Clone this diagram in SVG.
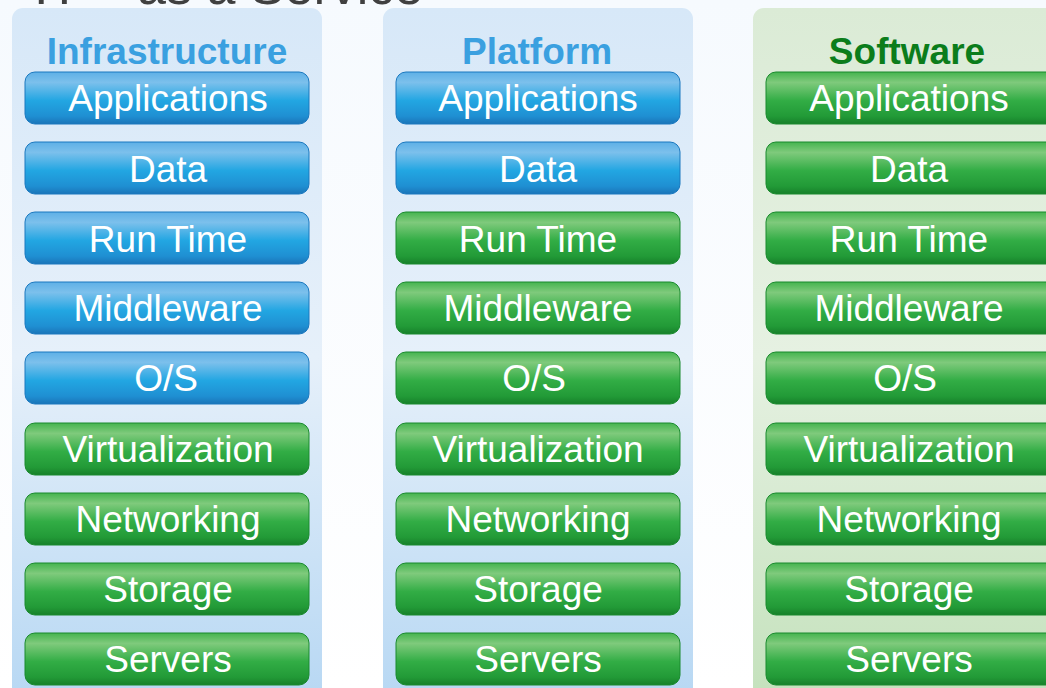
<svg xmlns="http://www.w3.org/2000/svg" width="1046" height="688" viewBox="0 0 1046 688">
<defs>
<linearGradient id="bg" x1="0" y1="0" x2="0" y2="1"><stop offset="0" stop-color="#f6fafe"/><stop offset="1" stop-color="#ffffff"/></linearGradient>
<linearGradient id="pb" x1="0" y1="0" x2="0" y2="1"><stop offset="0" stop-color="#d7e8f8"/><stop offset="0.5" stop-color="#e6f0fa"/><stop offset="1" stop-color="#b6d7f3"/></linearGradient>
<linearGradient id="pg" x1="0" y1="0" x2="0" y2="1"><stop offset="0" stop-color="#dbebd6"/><stop offset="0.5" stop-color="#e6f1e2"/><stop offset="1" stop-color="#c3e1bb"/></linearGradient>
<linearGradient id="gb" x1="0" y1="0" x2="0" y2="1"><stop offset="0" stop-color="#5eb0e6"/><stop offset="0.2" stop-color="#7cc0ec"/><stop offset="0.55" stop-color="#22a6e2"/><stop offset="0.85" stop-color="#1f8fd2"/><stop offset="1" stop-color="#1a74b8"/></linearGradient>
<linearGradient id="gg" x1="0" y1="0" x2="0" y2="1"><stop offset="0" stop-color="#45b44f"/><stop offset="0.2" stop-color="#7fca7c"/><stop offset="0.55" stop-color="#32ad45"/><stop offset="0.85" stop-color="#229a37"/><stop offset="1" stop-color="#17802a"/></linearGradient>
</defs>
<style>
.b rect{fill:url(#gb);stroke:#1a78bf;stroke-width:1}
.g rect{fill:url(#gg);stroke:#1a8a2e;stroke-width:1}
text{font-family:"Liberation Sans",Arial,sans-serif}
.t{fill:#ffffff;font-size:37px;text-anchor:middle}
.h{font-size:37px;font-weight:bold;text-anchor:middle}
</style>
<rect width="1046" height="688" fill="url(#bg)"/>
<text x="34" y="4" font-size="52" fill="#404040">IT – as a Service</text>
<g id="panel-infrastructure"><rect x="12" y="8" width="310" height="700" rx="11" fill="url(#pb)"/><text class="h" x="167" y="64" fill="#3aa0e0">Infrastructure</text></g>
<g id="panel-platform"><rect x="383" y="8" width="310" height="700" rx="11" fill="url(#pb)"/><text class="h" x="537" y="64" fill="#3aa0e0">Platform</text></g>
<g id="panel-software"><rect x="753" y="8" width="320" height="700" rx="11" fill="url(#pg)"/><text class="h" x="907" y="64" fill="#0b7d1b">Software</text></g>

<g id="i-applications" class="b"><rect x="25" y="72" width="284" height="52" rx="10"/><text class="t" x="168" y="111">Applications</text></g>
<g id="i-data" class="b"><rect x="25" y="142" width="284" height="52" rx="10"/><text class="t" x="168" y="182">Data</text></g>
<g id="i-runtime" class="b"><rect x="25" y="212" width="284" height="52" rx="10"/><text class="t" x="168" y="252">Run Time</text></g>
<g id="i-middleware" class="b"><rect x="25" y="282" width="284" height="52" rx="10"/><text class="t" x="168" y="321">Middleware</text></g>
<g id="i-os" class="b"><rect x="25" y="352" width="284" height="52" rx="10"/><text class="t" x="166" y="391">O/S</text></g>
<g id="i-virtualization" class="g"><rect x="25" y="423" width="284" height="52" rx="10"/><text class="t" x="168" y="462">Virtualization</text></g>
<g id="i-networking" class="g"><rect x="25" y="493" width="284" height="52" rx="10"/><text class="t" x="168" y="532">Networking</text></g>
<g id="i-storage" class="g"><rect x="25" y="563" width="284" height="52" rx="10"/><text class="t" x="168" y="602">Storage</text></g>
<g id="i-servers" class="g"><rect x="25" y="633" width="284" height="52" rx="10"/><text class="t" x="168" y="672">Servers</text></g>

<g id="p-applications" class="b"><rect x="396" y="72" width="284" height="52" rx="10"/><text class="t" x="538" y="111">Applications</text></g>
<g id="p-data" class="b"><rect x="396" y="142" width="284" height="52" rx="10"/><text class="t" x="538" y="182">Data</text></g>
<g id="p-runtime" class="g"><rect x="396" y="212" width="284" height="52" rx="10"/><text class="t" x="538" y="252">Run Time</text></g>
<g id="p-middleware" class="g"><rect x="396" y="282" width="284" height="52" rx="10"/><text class="t" x="538" y="321">Middleware</text></g>
<g id="p-os" class="g"><rect x="396" y="352" width="284" height="52" rx="10"/><text class="t" x="534" y="391">O/S</text></g>
<g id="p-virtualization" class="g"><rect x="396" y="423" width="284" height="52" rx="10"/><text class="t" x="538" y="462">Virtualization</text></g>
<g id="p-networking" class="g"><rect x="396" y="493" width="284" height="52" rx="10"/><text class="t" x="538" y="532">Networking</text></g>
<g id="p-storage" class="g"><rect x="396" y="563" width="284" height="52" rx="10"/><text class="t" x="538" y="602">Storage</text></g>
<g id="p-servers" class="g"><rect x="396" y="633" width="284" height="52" rx="10"/><text class="t" x="538" y="672">Servers</text></g>

<g id="s-applications" class="g"><rect x="766" y="72" width="290" height="52" rx="10"/><text class="t" x="909" y="111">Applications</text></g>
<g id="s-data" class="g"><rect x="766" y="142" width="290" height="52" rx="10"/><text class="t" x="909" y="182">Data</text></g>
<g id="s-runtime" class="g"><rect x="766" y="212" width="290" height="52" rx="10"/><text class="t" x="909" y="252">Run Time</text></g>
<g id="s-middleware" class="g"><rect x="766" y="282" width="290" height="52" rx="10"/><text class="t" x="909" y="321">Middleware</text></g>
<g id="s-os" class="g"><rect x="766" y="352" width="290" height="52" rx="10"/><text class="t" x="905" y="391">O/S</text></g>
<g id="s-virtualization" class="g"><rect x="766" y="423" width="290" height="52" rx="10"/><text class="t" x="909" y="462">Virtualization</text></g>
<g id="s-networking" class="g"><rect x="766" y="493" width="290" height="52" rx="10"/><text class="t" x="909" y="532">Networking</text></g>
<g id="s-storage" class="g"><rect x="766" y="563" width="290" height="52" rx="10"/><text class="t" x="909" y="602">Storage</text></g>
<g id="s-servers" class="g"><rect x="766" y="633" width="290" height="52" rx="10"/><text class="t" x="909" y="672">Servers</text></g>
<g id="connectors"/>
</svg>
